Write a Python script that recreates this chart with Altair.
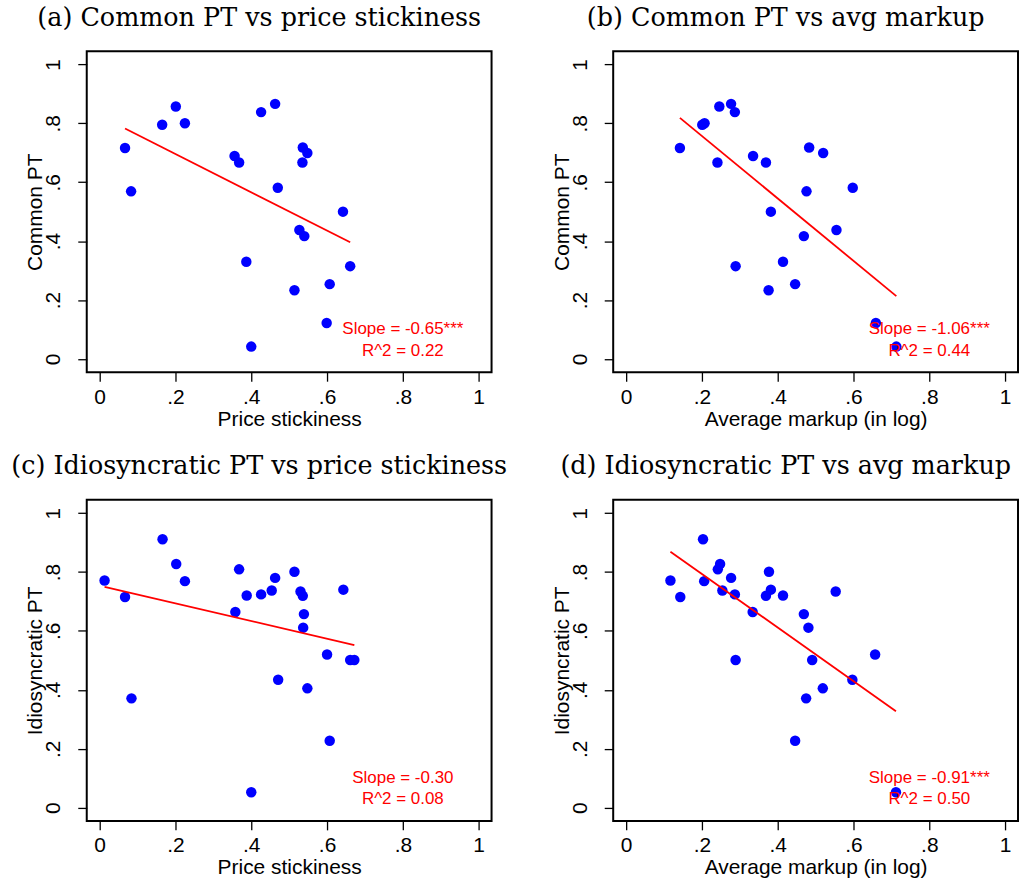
import altair as alt
import numpy as np
import pandas as pd

# Panels (a) and (b): common pass-through against price stickiness and log markup
common_pt = [0.716, 0.569, 0.795, 0.857, 0.800, 0.689, 0.667, 0.330, 0.042, 0.838, 0.866,
             0.581, 0.233, 0.438, 0.417, 0.718, 0.699, 0.667, 0.122, 0.254, 0.500, 0.315]
stickiness_common = [0.067, 0.083, 0.165, 0.201, 0.225, 0.356, 0.368, 0.387, 0.400, 0.426, 0.463,
                     0.470, 0.514, 0.527, 0.540, 0.536, 0.548, 0.535, 0.599, 0.607, 0.642, 0.661]
markup_common = [0.142, 0.476, 0.201, 0.246, 0.207, 0.335, 0.241, 0.414, 0.713, 0.287, 0.277,
                 0.598, 0.376, 0.555, 0.469, 0.483, 0.520, 0.369, 0.659, 0.446, 0.382, 0.289]

# Panels (c) and (d): idiosyncratic pass-through
idio_pt = [0.771, 0.715, 0.371, 0.911, 0.827, 0.769, 0.664, 0.809, 0.720, 0.052, 0.724, 0.737,
           0.780, 0.434, 0.801, 0.734, 0.719, 0.657, 0.611, 0.405, 0.520, 0.227, 0.740, 0.501, 0.501]
stickiness_idio = [0.013, 0.067, 0.084, 0.166, 0.202, 0.225, 0.358, 0.368, 0.388, 0.400, 0.426, 0.454,
                   0.463, 0.471, 0.514, 0.530, 0.536, 0.539, 0.537, 0.548, 0.600, 0.607, 0.643, 0.661, 0.672]
markup_idio = [0.117, 0.143, 0.475, 0.203, 0.248, 0.206, 0.334, 0.242, 0.414, 0.712, 0.287, 0.254,
               0.277, 0.597, 0.377, 0.553, 0.369, 0.469, 0.481, 0.519, 0.657, 0.446, 0.382, 0.289, 0.491]

# Regression statistics reported in each panel
slopes = [-0.65, -1.06, -0.30, -0.91]
r_squared = [0.22, 0.44, 0.08, 0.50]
stars = ["***", "***", "", "***"]

titles = [
    "(a) Common PT vs price stickiness",
    "(b) Common PT vs avg markup",
    "(c) Idiosyncratic PT vs price stickiness",
    "(d) Idiosyncratic PT vs avg markup",
]
x_titles = ["Price stickiness", "Average markup (in log)", "Price stickiness", "Average markup (in log)"]
y_titles = ["Common PT", "Common PT", "Idiosyncratic PT", "Idiosyncratic PT"]
tick_values = [0, 0.2, 0.4, 0.6, 0.8, 1]

SANS = "Liberation Sans"
label_expr = "datum.value == 0 ? '0' : datum.value == 1 ? '1' : '.' + round(datum.value * 10)"


def panel(xv, yv, slope, r2, star, title, xtitle, ytitle):
    pts = pd.DataFrame({"x": xv, "y": yv})
    # fitted line with the reported slope, passing through the sample means
    xm, ym = float(np.mean(xv)), float(np.mean(yv))
    x0, x1 = min(xv), max(xv)
    fit = pd.DataFrame({"x": [x0, x1], "y": [ym + slope * (x0 - xm), ym + slope * (x1 - xm)]})

    xscale = alt.Scale(domain=[-0.034, 1.034], nice=False, zero=False)
    yscale = alt.Scale(domain=[-0.045, 1.045], nice=False, zero=False)
    xaxis = alt.Axis(title=xtitle, values=tick_values, labelExpr=label_expr)
    yaxis = alt.Axis(title=ytitle, values=tick_values, labelExpr=label_expr)

    dots = alt.Chart(pts).mark_circle(size=110, color="#0000ff", opacity=1).encode(
        x=alt.X("x:Q", scale=xscale, axis=xaxis),
        y=alt.Y("y:Q", scale=yscale, axis=yaxis),
    )
    line = alt.Chart(fit).mark_line(color="#ff0000", strokeWidth=1.8).encode(
        x=alt.X("x:Q", scale=xscale),
        y=alt.Y("y:Q", scale=yscale),
    )
    txt_style = dict(font=SANS, fontSize=17, color="#ff0000", align="center", baseline="middle")
    note1 = alt.Chart(pd.DataFrame({"t": [f"Slope = {slope:.2f}{star}"]})).mark_text(**txt_style).encode(
        x=alt.datum(0.8, scale=xscale), y=alt.datum(0.1, scale=yscale), text="t:N"
    )
    note2 = alt.Chart(pd.DataFrame({"t": [f"R^2 = {r2:.2f}"]})).mark_text(**txt_style).encode(
        x=alt.datum(0.8, scale=xscale), y=alt.datum(0.028, scale=yscale), text="t:N"
    )
    return alt.layer(dots, line, note1, note2).properties(width=406, height=322, title=title)


x_sets = [stickiness_common, markup_common, stickiness_idio, markup_idio]
y_sets = [common_pt, common_pt, idio_pt, idio_pt]
panels = [
    panel(x_sets[i], y_sets[i], slopes[i], r_squared[i], stars[i], titles[i], x_titles[i], y_titles[i])
    for i in range(4)
]

chart = (
    alt.concat(*panels, columns=2, spacing={"row": 128, "column": 122}, bounds="flush")
    .properties(padding={"left": 10, "top": 3, "right": 2, "bottom": 4})
    .configure_view(stroke="black", strokeWidth=2)
    .configure_axis(
        grid=False, domain=False, ticks=True, tickColor="black", tickWidth=1.3, tickSize=9,
        labelFont=SANS, labelFontSize=21, labelColor="black", labelFlush=False,
        labelOverlap=False, labelBound=False,
        titleFont=SANS, titleFontSize=21, titleFontWeight="normal", titleColor="black",
    )
    .configure_axisX(labelBaseline="alphabetic", labelPadding=22, titleBaseline="alphabetic", titleY=53)
    .configure_axisY(labelAngle=-90, labelAlign="center", labelBaseline="alphabetic", labelPadding=18,
                     titleBaseline="alphabetic", titleX=-45)
    .configure_title(font="DejaVu Serif", fontSize=25.5, fontWeight="normal", color="black",
                     anchor="middle", dx=-30, offset=20, baseline="alphabetic")
)

chart.save("out.html", embed_options={"renderer": "svg", "actions": False})
